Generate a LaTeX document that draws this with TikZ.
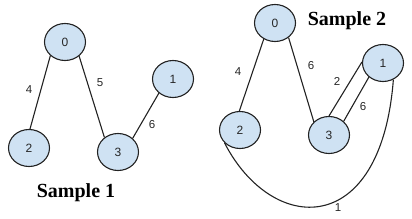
\documentclass[tikz,border=0pt]{standalone}
\usepackage{fontspec}
\setmainfont{Liberation Serif}
\newfontfamily\digitfont{Liberation Sans}
\usepackage{tikz}
\usetikzlibrary{shapes.geometric}
\definecolor{vertexFill}{HTML}{CFE2F3}
\definecolor{edgeInk}{HTML}{222222}

\begin{document}
\begin{tikzpicture}[x=1pt, y=-1pt,
          vert/.style={ellipse, draw=edgeInk, line width=1.1pt, fill=vertexFill, minimum width=41pt, minimum height=37pt, inner sep=0pt, font=\digitfont\fontsize{12}{14}\selectfont, text=black!85},
          wlab/.style={font=\digitfont\fontsize{11.5}{13}\selectfont, text=black!85, inner sep=1pt},
          edge/.style={draw=edgeInk, line width=1.1pt},
          title/.style={font=\fontsize{20}{24}\selectfont\bfseries}]
        \useasboundingbox (0,0) rectangle (412,219);
        % sample 1
        \node[vert] (a0) at (65,42) {0};
        \node[vert] (a1) at (173,79) {1};
        \node[vert] (a2) at (29,148) {2};
        \node[vert] (a3) at (118,152) {3};
        \draw[edge] (a0.223) -- (a2.87);
        \draw[edge] (a0.-45) -- (a3.133);
        \draw[edge] (a3.43) -- (a1.225);
        \node[wlab] (wa02) at (29,90) {4};
        \node[wlab] (wa03) at (100,83) {5};
        \node[wlab] (wa31) at (152,125) {6};
        \node[title] (t1) at (76,193) {Sample 1};
        % sample 2
        \node[vert] (b0) at (275,23) {0};
        \node[vert] (b1) at (383,63) {1};
        \node[vert] (b2) at (240,130) {2};
        \node[vert] (b3) at (329,135) {3};
        \draw[edge] (b0.235) -- (b2.92);
        \draw[edge] (b0.-47) -- (b3.139);
        \draw[edge] (b3.90) -- (b1.177);
        \draw[edge] (b3.43) -- (b1.225);
        \draw[edge] (b2.220) .. controls (272,235) and (381,240) .. (b1.-58);
        \node[wlab] (wb02) at (238,72) {4};
        \node[wlab] (wb03) at (311,66) {6};
        \node[wlab] (wb31a) at (337,81) {2};
        \node[wlab] (wb31b) at (363,107) {6};
        \node[wlab] (wb21) at (338,208) {1};
        \node[title] (t2) at (347,21) {Sample 2};
      \end{tikzpicture}
\end{document}
